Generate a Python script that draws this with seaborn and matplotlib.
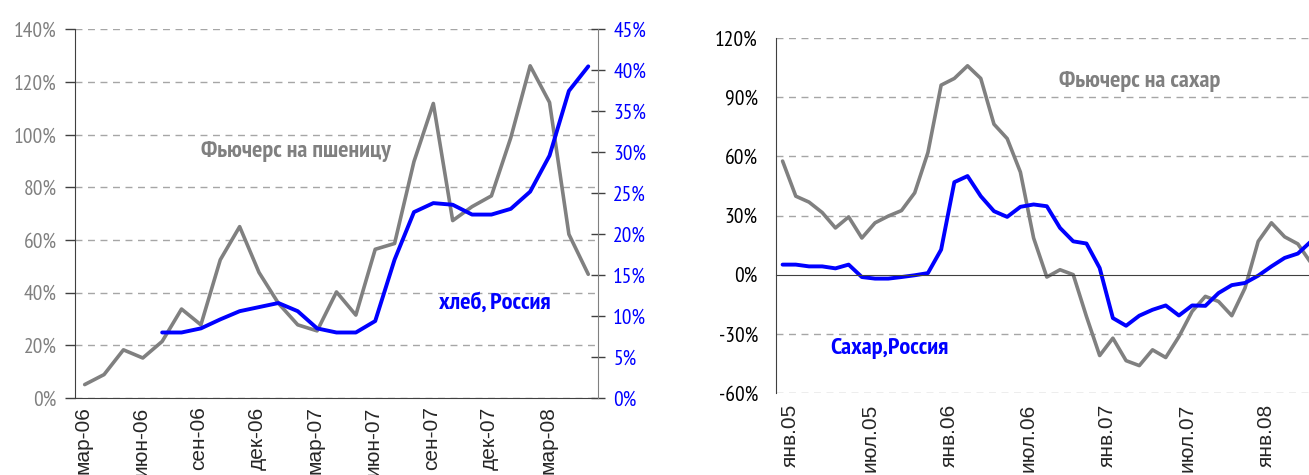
import matplotlib
matplotlib.use("Agg")
import pandas as pd
import seaborn as sns
import matplotlib.pyplot as plt
from matplotlib.ticker import FuncFormatter

# left chart: monthly from мар-06
wheat_months = list(range(27))
wheat_futures = [5.1, 8.9, 18.3, 15.2, 21.5, 33.8, 27.8, 52.5, 65.1, 47.7, 36.0, 27.8, 25.5, 40.3,
                 31.5, 56.5, 58.7, 89.8, 111.9, 67.4, 72.7, 76.8, 98.9, 126.2, 112.3, 62.2, 47.0]
bread_months = list(range(4, 27))
bread_russia = [8.0, 8.0, 8.5, 9.6, 10.6, 11.1, 11.6, 10.6, 8.5, 8.0, 8.0, 9.4, 16.9, 22.7, 23.8,
                23.6, 22.4, 22.4, 23.1, 25.2, 29.6, 37.5, 40.5]
wheat_ticklabels = ["мар-06", "июн-06", "сен-06", "дек-06", "мар-07", "июн-07", "сен-07", "дек-07", "мар-08"]

# right chart: monthly from янв.05
sugar_months = list(range(41))
sugar_futures = [57.6, 39.8, 36.8, 31.5, 23.7, 29.3, 18.6, 26.3, 29.7, 32.5, 41.5, 61.9, 96.1, 99.5,
                 105.9, 99.5, 76.3, 69.0, 52.0, 18.6, -1.2, 2.5, 0.0, -21.2, -41.0, -32.2, -43.6,
                 -46.1, -38.1, -42.0, -31.4, -18.6, -11.0, -13.6, -20.8, -6.8, 16.9, 26.3, 19.2, 15.6, 5.9]
sugar_russia = [5.1, 5.1, 4.2, 4.2, 3.2, 5.1, -1.2, -2.0, -2.0, -1.2, -0.3, 0.8, 12.7, 46.9, 50.0,
                39.8, 32.2, 29.3, 34.4, 35.6, 34.7, 23.7, 16.9, 15.8, 3.4, -22.0, -25.9, -20.8, -17.8,
                -15.6, -20.7, -15.6, -15.8, -9.3, -5.3, -4.2, -0.5, 4.2, 8.5, 10.7, 16.9]
sugar_ticklabels = ["янв.05", "июл.05", "янв.06", "июл.06", "янв.07", "июл.07", "янв.08"]

sns.set_style("white")
NARROW = ['PT Sans Narrow', 'Roboto Condensed', 'Fira Sans Condensed', 'DejaVu Sans']
plt.rcParams['font.family'] = NARROW
XFONT = ['Liberation Sans', 'Arimo', 'Arial', 'DejaVu Sans']

GRAY = "#808080"
BLUE = "#0000ff"
GRID = "#a6a6a6"
AXIS = "#404040"
pct = FuncFormatter(lambda v, p: f"{v:.0f}%")

fig = plt.figure(figsize=(13.09, 4.75), dpi=100)

# ---------------- left chart ----------------
ax1 = fig.add_axes([0.0573, 0.1621, 0.3995, 0.7758])
ax2 = ax1.twinx()
sns.lineplot(x=wheat_months, y=wheat_futures, ax=ax1, color=GRAY, linewidth=2.6)
sns.lineplot(x=bread_months, y=bread_russia, ax=ax2, color=BLUE, linewidth=2.8)

ax1.set_xlim(-0.5, 26.5)
ax1.set_ylim(0, 140)
ax2.set_ylim(0, 45)
ax1.set_yticks(range(0, 141, 20))
ax2.set_yticks(range(0, 46, 5))
ax1.yaxis.set_major_formatter(pct)
ax2.yaxis.set_major_formatter(pct)
ax1.set_xticks([i * 3 - 0.5 for i in range(len(wheat_ticklabels))])
ax1.tick_params(axis='x', length=6, width=1, color=AXIS, labelbottom=False)
ax1.grid(False)
ax2.grid(False)
ax1.yaxis.grid(True, linestyle=(0, (5, 4)), color=GRID, linewidth=1)
ax1.set_axisbelow(True)
for ax in (ax1, ax2):
    ax.set_xlabel("")
    ax.set_ylabel("")
    ax.spines['top'].set_visible(False)
ax1.spines['right'].set_visible(False)
ax2.spines['left'].set_visible(False)
ax2.spines['bottom'].set_visible(False)
ax1.spines['left'].set_color(AXIS)
ax1.spines['bottom'].set_color(AXIS)
ax2.spines['right'].set_color(GRAY)
ax1.tick_params(axis='y', labelcolor=GRAY, color=AXIS, labelsize=15.5, length=7, width=1,
                direction='out', pad=6)
ax2.tick_params(axis='y', labelcolor=BLUE, color=AXIS, labelsize=15.5, length=10, width=1,
                direction='inout', pad=6)

sec1 = ax1.secondary_xaxis('bottom')
sec1.set_xticks([i * 3 - 0.1 for i in range(len(wheat_ticklabels))])
sec1.set_xticklabels(wheat_ticklabels, rotation=90, family=XFONT, fontsize=15)
sec1.tick_params(axis='x', length=0, pad=6)
sec1.spines['bottom'].set_visible(False)

ax1.text(10.9, 93.5, "Фьючерс на пшеницу", color=GRAY, fontsize=17.5, fontweight='bold',
         ha='center', va='center')
ax2.text(21.2, 11.6, "хлеб, Россия", color=BLUE, fontsize=17.5, fontweight='bold',
         ha='center', va='center')

# ---------------- right chart ----------------
ax3 = fig.add_axes([0.5928, 0.1726, 0.434, 0.7474])
sns.lineplot(x=sugar_months, y=sugar_futures, ax=ax3, color=GRAY, linewidth=2.6)
sns.lineplot(x=sugar_months, y=sugar_russia, ax=ax3, color=BLUE, linewidth=2.8)
ax3.set_xlim(-0.5, 42.5)
ax3.set_ylim(-60, 120)
ax3.set_yticks(range(-60, 121, 30))
ax3.yaxis.set_major_formatter(pct)
ax3.grid(False)
for v in range(-60, 121, 30):
    if v != 0:
        ax3.axhline(v, linestyle=(0, (5, 4)), color=GRID, linewidth=1, zorder=0)
ax3.set_xlabel("")
ax3.set_ylabel("")
ax3.spines['top'].set_visible(False)
ax3.spines['right'].set_visible(False)
ax3.spines['left'].set_color(AXIS)
ax3.spines['bottom'].set_position(('data', 0))
ax3.spines['bottom'].set_color(AXIS)
ax3.set_xticks([i * 6 - 0.5 for i in range(len(sugar_ticklabels) + 1)])
ax3.tick_params(axis='x', length=7, width=1.2, color='black', direction='out', labelbottom=False)
ax3.tick_params(axis='y', labelcolor='black', color=AXIS, labelsize=15.5, length=7, width=1,
                direction='out', pad=6)

sec = ax3.secondary_xaxis('bottom')
sec.set_xticks([i * 6 + 0.6 for i in range(len(sugar_ticklabels))])
sec.set_xticklabels(sugar_ticklabels, rotation=90, family=XFONT, fontsize=15)
sec.tick_params(axis='x', length=0, pad=8)
sec.spines['bottom'].set_visible(False)

ax3.text(27.0, 98, "Фьючерс на сахар", color=GRAY, fontsize=17.5, fontweight='bold',
         ha='center', va='center')
ax3.text(8.1, -37.5, "Сахар,Россия", color=BLUE, fontsize=17.5, fontweight='bold',
         ha='center', va='center')

fig.savefig("out.png", dpi=100)
